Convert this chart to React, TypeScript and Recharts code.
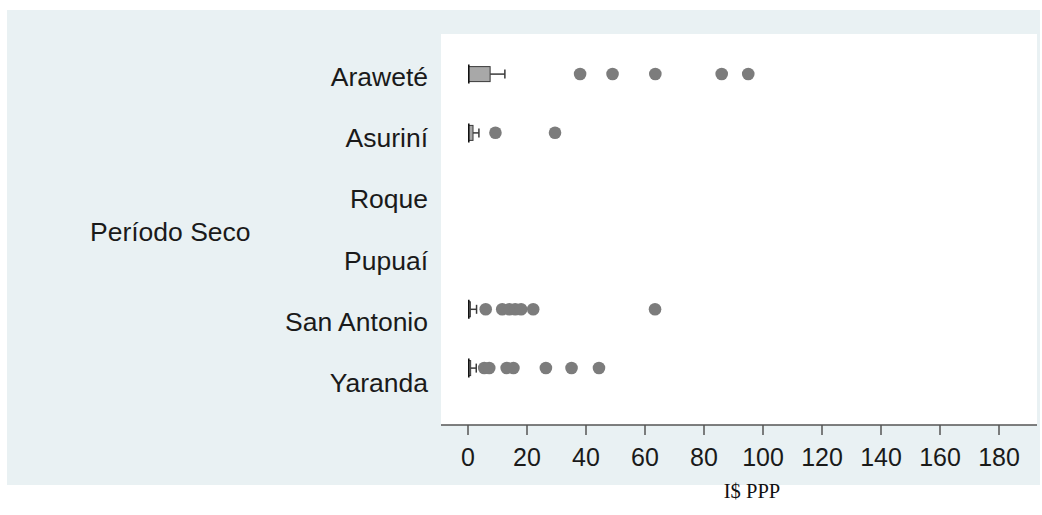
import React from 'react';
import { ComposedChart, Bar, Scatter, XAxis, YAxis, CartesianGrid } from 'recharts';

// ---- data ----
const categories = ['Araweté', 'Asuriní', 'Roque', 'Pupuaí', 'San Antonio', 'Yaranda'];
const q1Values: (number | null)[] = [0, 0, null, null, 0, 0];
const medianValues: (number | null)[] = [0, 0, null, null, 0, 0];
const q3Values: (number | null)[] = [7.5, 1.7, null, null, 0.8, 0.9];
const whiskerHighValues: (number | null)[] = [12.5, 3.7, null, null, 2.9, 2.8];
const outlierValues: number[][] = [
  [38, 49, 63.5, 86, 95],
  [9.3, 29.5],
  [],
  [],
  [6, 11.6, 14, 16, 18, 22.1, 63.4],
  [5.5, 7.2, 13.1, 15.4, 26.4, 35.1, 44.4],
];
const xTicks = [0, 20, 40, 60, 80, 100, 120, 140, 160, 180];
const groupLabel = 'Período Seco';
const xLabel = 'I$ PPP';

const MAX_OUT = 7;
const outKeys = Array.from({ length: MAX_OUT }, (_, i) => `o${i + 1}`);

const data = categories.map((name, i) => {
  const row: any = {
    name,
    q1: q1Values[i],
    median: medianValues[i],
    q3: q3Values[i],
    wh: whiskerHighValues[i],
    base: q1Values[i],
    box: q3Values[i] != null && q1Values[i] != null ? (q3Values[i] as number) - (q1Values[i] as number) : null,
    whisk: whiskerHighValues[i] != null && q3Values[i] != null ? (whiskerHighValues[i] as number) - (q3Values[i] as number) : null,
  };
  outKeys.forEach((k, j) => {
    row[k] = outlierValues[i][j] ?? null;
  });
  return row;
});

const FONT = '"Liberation Sans", Arial, Helvetica, sans-serif';

const ok = (v: any) => typeof v === 'number' && isFinite(v);

const BoxShape = (props: any) => {
  const { x, y, width, height, payload } = props;
  if (!ok(x) || !ok(y) || !ok(width) || !ok(height) || payload?.box == null) return <g />;
  const span = payload.q3 - payload.q1;
  const mx = span > 0 ? x + ((payload.median - payload.q1) / span) * width : x;
  return (
    <g>
      <rect x={x} y={y} width={width} height={height} fill="#a8a8a8" stroke="#3a3a3a" strokeWidth={1} />
      <line x1={mx} x2={mx} y1={y - 2} y2={y + height + 2} stroke="#111" strokeWidth={3.2} />
    </g>
  );
};

const WhiskerShape = (props: any) => {
  const { x, y, width, height, payload } = props;
  if (!ok(x) || !ok(y) || !ok(width) || !ok(height) || payload?.whisk == null) return <g />;
  const cy = y + height / 2;
  const xe = x + width;
  return (
    <g>
      <line x1={x} x2={xe} y1={cy} y2={cy} stroke="#3a3a3a" strokeWidth={1.5} />
      <line x1={xe} x2={xe} y1={cy - 4.5} y2={cy + 4.5} stroke="#3a3a3a" strokeWidth={1.5} />
    </g>
  );
};

const Dot = (props: any) => {
  const { cx, cy } = props;
  if (!ok(cx) || !ok(cy)) return <g />;
  return <circle cx={cx} cy={cy} r={6.3} fill="#7c7c7c" />;
};

const YTick = (props: any) => {
  const { x, y, payload, index } = props;
  return (
    <text
      x={x}
      y={y + 3 + 2.4 * (index ?? 0)}
      textAnchor="end"
      dominantBaseline="central"
      fontSize={26.5}
      fontFamily={FONT}
      fill="#1a1a1a"
    >
      {payload.value}
    </text>
  );
};

const XLabelContent = (props: any) => {
  const vb = props.viewBox || {};
  const cx = (vb.x ?? 0) + (vb.width ?? 0) / 2 + 13;
  return (
    <text x={cx} y={498} textAnchor="middle" fontSize={20.5} fontFamily='"Liberation Serif", "Times New Roman", serif' fill="#111">
      {xLabel}
    </text>
  );
};

const GroupLabelContent = (props: any) => {
  const vb = props.viewBox || {};
  const cy = (vb.y ?? 0) + (vb.height ?? 0) / 2;
  return (
    <text x={90} y={cy + 2} dominantBaseline="central" fontSize={26.5} fontFamily={FONT} fill="#1a1a1a">
      {groupLabel}
    </text>
  );
};

export default function App() {
  return (
    <div style={{ position: 'absolute', left: 0, top: 0, width: 1042, height: 515, background: '#fff' }}>
      <div style={{ position: 'absolute', left: 7, top: 10, width: 1033, height: 475, background: '#e9f1f3' }} />
      <div style={{ position: 'absolute', left: 0, top: 0 }}>
        <ComposedChart
          width={1042}
          height={515}
          data={data}
          layout="vertical"
          margin={{ top: 34, right: 5, bottom: 30, left: 41 }}
          barCategoryGap="10%"
        >
          <CartesianGrid horizontal={false} vertical={false} fill="#ffffff" stroke="none" />
          <XAxis
            type="number"
            domain={[0, 180]}
            ticks={xTicks}
            allowDataOverflow
            padding={{ left: 27, right: 38 }}
            height={60}
            axisLine={{ stroke: '#555', strokeWidth: 1.5 }}
            tickLine={{ stroke: '#555', strokeWidth: 1.5 }}
            tickSize={10}
            tickMargin={13}
            tick={{ fontSize: 25, fill: '#1a1a1a', fontFamily: FONT }}
            label={{ content: XLabelContent }}
          />
          <YAxis
            type="category"
            dataKey="name"
            width={400}
            axisLine={false}
            tickLine={false}
            tickSize={0}
            tickMargin={13}
            padding={{ top: 10.6, bottom: 27.6 }}
            tick={YTick}
            interval={0}
            label={{ content: GroupLabelContent }}
          />
          <Bar dataKey="base" stackId="b" fill="transparent" barSize={15} isAnimationActive={false} />
          <Bar dataKey="box" stackId="b" barSize={15} shape={BoxShape} isAnimationActive={false} />
          <Bar dataKey="whisk" stackId="b" barSize={15} shape={WhiskerShape} isAnimationActive={false} />
          {outKeys.map((k) => (
            <Scatter key={k} dataKey={k} shape={Dot} isAnimationActive={false} />
          ))}
        </ComposedChart>
      </div>
    </div>
  );
}
